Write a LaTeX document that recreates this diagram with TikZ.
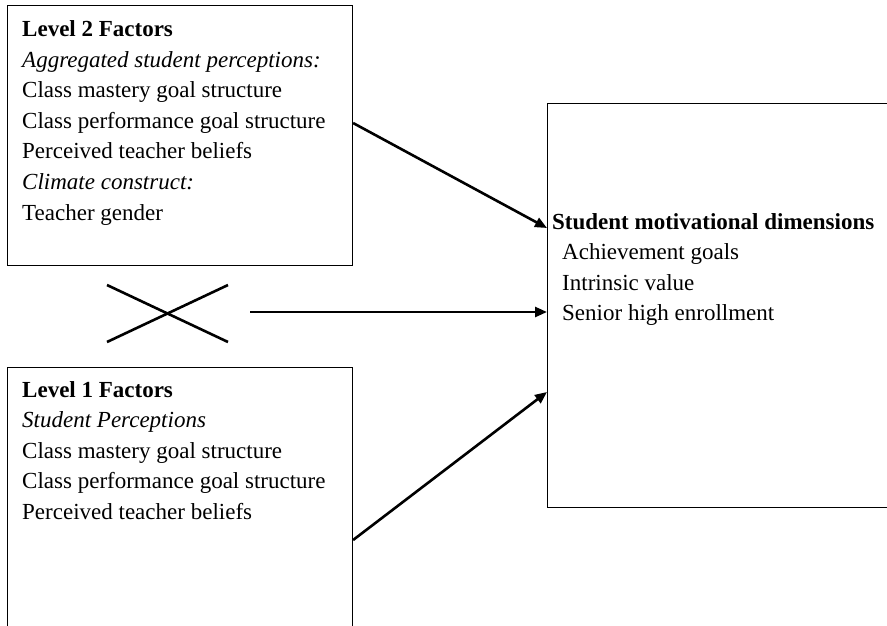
\documentclass[tikz,border=0pt]{standalone}
\usepackage{fontspec}
\setmainfont{Liberation Serif}
\usetikzlibrary{arrows.meta}
\begin{document}
\begin{tikzpicture}[x=1pt,y=-1pt,
  boxst/.style={draw=black,line width=1.1pt,inner sep=0pt,anchor=north west},
  txt/.style={anchor=base west,inner sep=0pt,font=\fontsize{23}{30}\selectfont},
  btxt/.style={txt,font=\fontsize{23}{30}\selectfont\bfseries},
  itxt/.style={txt,font=\fontsize{23}{30}\selectfont\itshape},
  arr/.style={line width=2.6pt,-{Triangle[length=12pt,width=10pt]}},
  cross/.style={line width=2.6pt}]
\useasboundingbox (0,0) rectangle (887,625);
\clip (0,0) rectangle (887,625);
% boxes
\node[boxst,minimum width=345pt,minimum height=260pt] (L2) at (7,5) {};
\node[boxst,minimum width=345pt,minimum height=280pt] (L1) at (7,367) {};
\node[boxst,minimum width=360pt,minimum height=404pt] (R) at (547,103) {};
% level 2 text
\node[btxt] (l2a) at (22,36) {Level 2 Factors};
\node[itxt] (l2b) at (22,67) {Aggregated student perceptions:};
\node[txt]  (l2c) at (22,97) {Class mastery goal structure};
\node[txt]  (l2d) at (22,128) {Class performance goal structure};
\node[txt]  (l2e) at (22,158) {Perceived teacher beliefs};
\node[itxt] (l2f) at (22,189) {Climate construct:};
\node[txt]  (l2g) at (22,220) {Teacher gender};
% level 1 text
\node[btxt] (l1a) at (22,397) {Level 1 Factors};
\node[itxt] (l1b) at (22,427.5) {Student Perceptions};
\node[txt]  (l1c) at (22,458) {Class mastery goal structure};
\node[txt]  (l1d) at (22,488.5) {Class performance goal structure};
\node[txt]  (l1e) at (22,519) {Perceived teacher beliefs};
% right text
\node[btxt] (ra) at (552,229) {Student motivational dimensions};
\node[txt]  (rb) at (562,259.5) {Achievement goals};
\node[txt]  (rc) at (562,290) {Intrinsic value};
\node[txt]  (rd) at (562,320.5) {Senior high enrollment};
% cross
\coordinate (x1) at (107,285);
\coordinate (x2) at (228,342);
\coordinate (x3) at (107,342);
\coordinate (x4) at (228,285);
\draw[cross] (x1) -- (x2);
\draw[cross] (x3) -- (x4);
% arrows
\coordinate (y1) at (0,123);
\coordinate (y2) at (0,228);
\coordinate (y3) at (0,312);
\coordinate (y4) at (0,540);
\coordinate (y5) at (0,392);
\coordinate (hs) at (250,312);
\draw[arr] (L2.east |- y1) -- (R.west |- y2);
\draw[arr] (hs) -- (R.west |- y3);
\draw[arr] (L1.east |- y4) -- (R.west |- y5);
\end{tikzpicture}
\end{document}
